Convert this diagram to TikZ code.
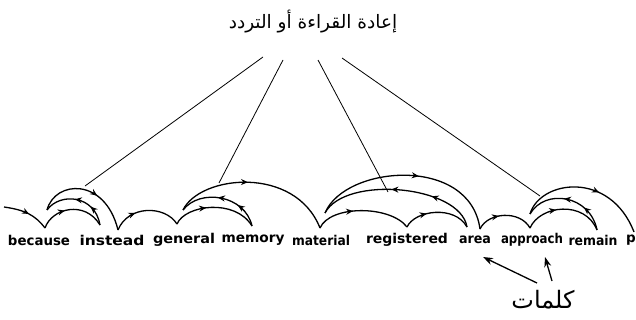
\documentclass[tikz,border=0pt]{standalone}
\usepackage{fontspec}
\usetikzlibrary{arrows.meta,decorations.markings}
\newfontfamily\arabicfont[Script=Arabic]{DejaVu Sans}
\newfontfamily\wordfont{DejaVu Sans}
\TeXXeTstate=1
\newcommand{\wordbox}[2]{\resizebox{#1pt}{\height}{#2}}

\tikzset{
  sweep/.style={line width=1.3pt, postaction={decorate},
    decoration={markings, mark=at position #1 with {\arrow{Stealth[length=7pt,width=6pt]}}}},
  sweep/.default=0.5,
  regress/.style={line width=1.3pt, postaction={decorate},
    decoration={markings,
      mark=at position 0.3 with {\arrow{Stealth[length=7pt,width=6pt]}},
      mark=at position 0.55 with {\arrow{Stealth[length=7pt,width=6pt]}}}},
  word/.style={font=\wordfont\bfseries\fontsize{13.5}{15}\selectfont, inner sep=0pt},
  lead/.style={line width=0.8pt},
  pointer/.style={line width=1.3pt, -{Stealth[length=10pt,width=7pt]}}
}

\begin{document}
\begin{tikzpicture}[x=1pt,y=-1pt]
  \useasboundingbox (0,0) rectangle (636,320);

  % labels
  \node[font=\arabicfont\fontsize{18.5}{22}\selectfont] (title) at (313,22) {\beginR إعادة القراءة أو التردد\endR};
  \node[font=\arabicfont\fontsize{24}{28}\selectfont] (words) at (543,300) {\beginR كلمات\endR};

  % the words of the line
  \node[word] (w1) at (39,240) {\wordbox{62}{because}};
  \node[word] (w2) at (112,240) {\wordbox{65}{instead}};
  \node[word] (w3) at (184,240) {\wordbox{62}{general}};
  \node[word] (w4) at (253,240) {\wordbox{63}{memory}};
  \node[word] (w5) at (321,240) {\wordbox{58}{material}};
  \node[word] (w6) at (407,240) {\wordbox{82}{registered}};
  \node[word] (w7) at (475,240) {\wordbox{32}{area}};
  \node[word] (w8) at (532,240) {\wordbox{62}{approach}};
  \node[word] (w9) at (593,240) {\wordbox{49}{remain}};
  \node[word, anchor=west] (w10) at (626,240) {p};

  % fixation points
  \coordinate (s0) at (4,207);
  \coordinate (f1) at (45,228);
  \coordinate (r1) at (100,225);
  \coordinate (l1) at (47,210);
  \coordinate (f2) at (118,230);
  \coordinate (f3) at (177,224);
  \coordinate (r2) at (252,226);
  \coordinate (l2) at (183,210);
  \coordinate (f4) at (320,228);
  \coordinate (f5) at (407,227);
  \coordinate (r3) at (467,227);
  \coordinate (l3) at (325,213);
  \coordinate (f6) at (480,229);
  \coordinate (f7) at (530,228);
  \coordinate (r4) at (597,230);
  \coordinate (l4) at (530,214);
  \coordinate (e0) at (634,232);

  % eye path
  \draw[sweep=0.55] (s0) .. controls (25,210) and (35,215) .. (f1);
  \draw[sweep=0.4] (f1) .. controls (52,208) and (85,200) .. (r1);
  \draw[regress] (r1) .. controls (95,195) and (60,192) .. (l1);
  \draw[sweep=0.6] (l1) .. controls (55,180) and (105,177) .. (f2);
  \draw[sweep=0.35] (f2) .. controls (128,205) and (165,205) .. (f3);
  \draw[sweep=0.4] (f3) .. controls (185,205) and (235,198) .. (r2);
  \draw[regress] (r2) .. controls (245,195) and (200,188) .. (l2);
  \draw[sweep=0.45] (l2) .. controls (200,175) and (295,165) .. (f4);
  \draw[sweep=0.4] (f4) .. controls (330,205) and (390,205) .. (f5);
  \draw[sweep=0.35] (f5) .. controls (415,210) and (455,205) .. (r3);
  \draw[regress] (r3) .. controls (460,185) and (345,175) .. (l3);
  \draw[sweep=0.55] (l3) .. controls (345,165) and (470,155) .. (f6);
  \draw[sweep=0.4] (f6) .. controls (488,212) and (520,210) .. (f7);
  \draw[sweep=0.4] (f7) .. controls (540,205) and (585,200) .. (r4);
  \draw[regress] (r4) .. controls (590,195) and (545,188) .. (l4);
  \draw[sweep=0.6] (l4) .. controls (540,180) and (610,170) .. (e0);

  % leader lines
  \coordinate (t1) at (263,57);
  \coordinate (t2) at (283,60);
  \coordinate (t3) at (318,60);
  \coordinate (t4) at (342,58);
  \coordinate (h1) at (85,186);
  \coordinate (h2) at (219,183);
  \coordinate (h3) at (388,192);
  \coordinate (h4) at (540,196);
  \draw[lead] (t1) -- (h1);
  \draw[lead] (t2) -- (h2);
  \draw[lead] (t3) -- (h3);
  \draw[lead] (t4) -- (h4);

  % word pointers
  \coordinate (p1) at (537,283);
  \coordinate (p2) at (552,281);
  \coordinate (q1) at (483,257);
  \coordinate (q2) at (545,257);
  \draw[pointer] (p1) -- (q1);
  \draw[pointer] (p2) -- (q2);
\end{tikzpicture}
\end{document}
